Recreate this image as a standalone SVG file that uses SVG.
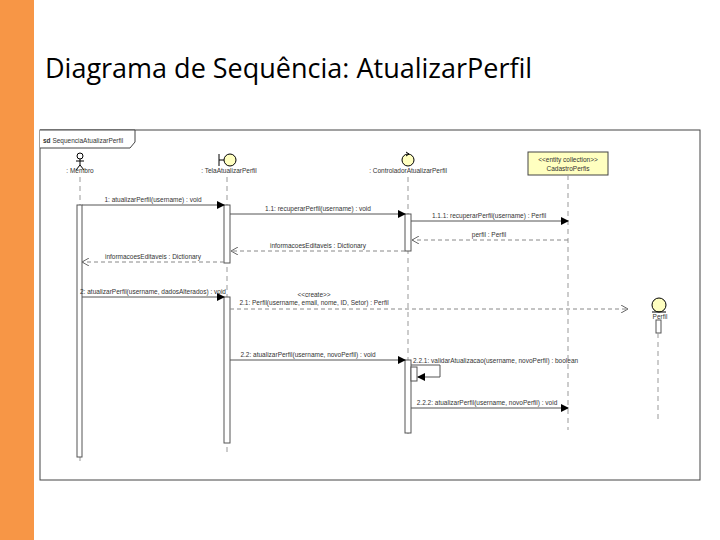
<svg xmlns="http://www.w3.org/2000/svg" width="720" height="540" viewBox="0 0 720 540">
<defs>
<style>
.t{font-family:"Liberation Sans",Arial,sans-serif;font-size:6.5px;fill:#333}
.ll{stroke:#999;stroke-width:1;stroke-dasharray:5,4;fill:none}
.m{stroke:#555;stroke-width:1;fill:none}
.r{stroke:#888;stroke-width:1;stroke-dasharray:4,3;fill:none}
.act{fill:#fff;stroke:#555;stroke-width:1}
</style>
<marker id="f" markerWidth="8" markerHeight="8" refX="7" refY="4" orient="auto" markerUnits="userSpaceOnUse"><path d="M0,0L8,4L0,8z" fill="#000"/></marker>
<marker id="o" markerWidth="8" markerHeight="8" refX="7" refY="4" orient="auto" markerUnits="userSpaceOnUse"><path d="M0,0L7,4L0,8" fill="none" stroke="#666"/></marker>
</defs>
<rect width="720" height="540" fill="#fff"/>
<rect x="0" y="0" width="34" height="540" fill="#f79646"/>
<text x="45" y="78" font-family="'Open Sans','Liberation Sans',sans-serif" font-size="27" fill="#000">Diagrama de Sequência: AtualizarPerfil</text>
<g id="frame">
<rect x="40" y="130" width="660" height="350" fill="#fff" stroke="#444"/>
<path d="M40,130H135V142L130,148H40" fill="#fff" stroke="#444"/>
<text class="t" x="43" y="143"><tspan font-weight="bold">sd</tspan> SequenciaAtualizarPerfil</text>
</g>
<g id="membro">
<circle cx="80" cy="156" r="3" fill="none" stroke="#000"/>
<path d="M80,159V165M76,161H84M80,165L76,170M80,165L84,170" stroke="#000" fill="none"/>
<text class="t" x="80" y="173" text-anchor="middle">: Membro</text>
<line class="ll" x1="80" y1="177" x2="80" y2="462"/>
<rect class="act" x="77" y="205" width="5" height="252"/>
</g>
<g id="tela">
<line x1="219" y1="154" x2="219" y2="166" stroke="#000"/>
<line x1="219" y1="160" x2="224" y2="160" stroke="#000"/>
<circle cx="230" cy="160" r="6" fill="#ffffc0" stroke="#000"/>
<text class="t" x="229" y="173" text-anchor="middle">: TelaAtualizarPerfil</text>
<line class="ll" x1="227" y1="177" x2="227" y2="452"/>
<rect class="act" x="224" y="205" width="6" height="58"/>
<rect class="act" x="224" y="297" width="6" height="146"/>
</g>
<g id="controlador">
<circle cx="408" cy="160" r="6" fill="#ffffc0" stroke="#000"/>
<path d="M406,152L409,154L406,156" fill="none" stroke="#000"/>
<text class="t" x="408" y="173" text-anchor="middle">: ControladorAtualizarPerfil</text>
<line class="ll" x1="408" y1="177" x2="408" y2="435"/>
<rect class="act" x="405" y="214" width="6" height="37"/>
<rect class="act" x="405" y="360" width="6" height="73"/>
<rect class="act" x="411" y="367" width="6" height="14"/>
</g>
<g id="cadastro">
<rect x="528" y="152" width="80" height="23" fill="#ffffc0" stroke="#444"/>
<text class="t" x="568" y="162" text-anchor="middle">&lt;&lt;entity collection&gt;&gt;</text>
<text class="t" x="568" y="171" text-anchor="middle">CadastroPerfis</text>
<line class="ll" x1="568" y1="175" x2="568" y2="430"/>
</g>
<g id="perfil">
<circle cx="659" cy="305" r="7" fill="#ffffc0" stroke="#000"/>
<line x1="652" y1="312" x2="666" y2="312" stroke="#000"/>
<text class="t" x="660" y="319" text-anchor="middle">Perfil</text>
<rect class="act" x="656" y="320" width="5" height="13"/>
<line class="ll" x1="658" y1="333" x2="658" y2="422"/>
</g>
<g id="connectors">
<line class="m" x1="82" y1="205" x2="224" y2="205" marker-end="url(#f)"/>
<text class="t" x="153" y="202" text-anchor="middle">1: atualizarPerfil(username) : void</text>
<line class="m" x1="230" y1="214" x2="405" y2="214" marker-end="url(#f)"/>
<text class="t" x="318" y="211" text-anchor="middle">1.1: recuperarPerfil(username) : void</text>
<line class="m" x1="411" y1="221" x2="568" y2="221" marker-end="url(#f)"/>
<text class="t" x="489" y="218" text-anchor="middle">1.1.1: recuperarPerfil(username) : Perfil</text>
<line class="r" x1="568" y1="240" x2="412" y2="240" marker-end="url(#o)"/>
<text class="t" x="489" y="237" text-anchor="middle">perfil : Perfil</text>
<line class="r" x1="405" y1="251" x2="231" y2="251" marker-end="url(#o)"/>
<text class="t" x="318" y="248" text-anchor="middle">informacoesEditaveis : Dictionary</text>
<line class="r" x1="224" y1="262" x2="82" y2="262" marker-end="url(#o)"/>
<text class="t" x="153" y="259" text-anchor="middle">informacoesEditaveis : Dictionary</text>
<line class="m" x1="82" y1="297" x2="224" y2="297" marker-end="url(#f)"/>
<text class="t" x="80" y="294">2: atualizarPerfil(username, dadosAlterados) : void</text>
<line class="r" x1="230" y1="309" x2="628" y2="309" marker-end="url(#o)"/>
<text class="t" x="314" y="297" text-anchor="middle">&lt;&lt;create&gt;&gt;</text>
<text class="t" x="314" y="305" text-anchor="middle">2.1: Perfil(username, email, nome, ID, Setor) : Perfil</text>
<line class="m" x1="230" y1="360" x2="405" y2="360" marker-end="url(#f)"/>
<text class="t" x="308" y="357" text-anchor="middle">2.2: atualizarPerfil(username, novoPerfil) : void</text>
<path class="m" d="M411,365H440V377H418" marker-end="url(#f)"/>
<text class="t" x="413" y="363">2.2.1: validarAtualizacao(username, novoPerfil) : boolean</text>
<line class="m" x1="411" y1="408" x2="568" y2="408" marker-end="url(#f)"/>
<text class="t" x="487" y="405" text-anchor="middle">2.2.2: atualizarPerfil(username, novoPerfil) : void</text>
</g>
</svg>
